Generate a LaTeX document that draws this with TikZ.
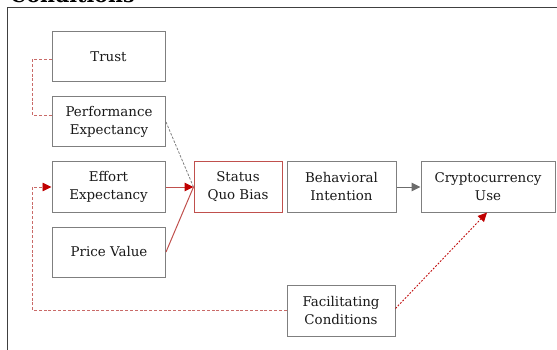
\documentclass[tikz,border=0pt]{standalone}
\usepackage{fontspec}
\setmainfont{DejaVu Serif}
\usetikzlibrary{arrows.meta}
\definecolor{boxgray}{HTML}{7F7F7F}
\definecolor{darkred}{HTML}{C00000}
\definecolor{softred}{HTML}{C0504D}
\definecolor{framegray}{HTML}{404040}
\begin{document}
\begin{tikzpicture}[x=1pt,y=-1pt,
  box/.style={draw=boxgray,line width=1pt,minimum width=113pt,minimum height=50pt,
    align=center,inner sep=0pt,text=black!90,font=\fontsize{13.4}{18}\selectfont},
  redbox/.style={box,draw=softred},
  tip/.style={-{Triangle[length=9pt,width=8.5pt]}},
  redtip/.style={-{Triangle[length=9pt,width=8.5pt,color=darkred]}},
  redarrow/.style={draw=softred,line width=1pt,redtip},
  grayarrow/.style={draw=boxgray!85!black,line width=1pt,tip},
  reddash/.style={draw=softred!85!white,line width=0.9pt,dash pattern=on 3pt off 1.8pt},
  reddot/.style={draw=darkred!85!softred,line width=0.9pt,dash pattern=on 1.8pt off 1.6pt},
  graydash/.style={draw=boxgray,line width=0.8pt,dash pattern=on 2.5pt off 1.5pt}]
\clip (0,0) rectangle (557,350);
\useasboundingbox (0,0) rectangle (557,350);
\node[anchor=base west,inner sep=0pt,font=\fontsize{20.5}{24}\selectfont\bfseries] (title) at (10,3) {Conditions};
\draw[framegray,line width=0.9pt] (7,352) -- (7,7) -- (560,7);
\node[box] (trust) at (108.5,57) {Trust};
\node[box] (pe) at (109,122) {Performance\\Expectancy};
\node[box] (ee) at (108.5,187) {Effort\\Expectancy};
\node[box] (pv) at (109,252) {Price Value};
\node[redbox,minimum width=88pt] (sqb) at (238,187) {Status\\Quo Bias};
\node[box,minimum width=109pt] (bi) at (341.5,187) {Behavioral\\Intention};
\node[box,minimum width=134pt] (cu) at (488,187) {Cryptocurrency\\Use};
\node[box,minimum width=108pt,minimum height=51pt] (fc) at (341,310.5) {Facilitating\\Conditions};
\coordinate (sqbin) at (sqb.west);
\draw[reddash] ([yshift=-2pt]trust.west) -- ++(-19,0) |- ([yshift=7pt]pe.west);
\draw[graydash] (pe.east) -- (sqbin);
\draw[softred,line width=1pt] (pv.east) -- (sqbin);
\draw[redarrow] (ee.east) -- (sqbin);
\draw[grayarrow] (bi.east) -- (cu.west);
\draw[reddash,redtip] (fc.west) -- ++(-254,0) |- (ee.west);
\draw[reddot,redtip] ([yshift=2pt]fc.east) -- ([xshift=-1pt]cu.south);
\end{tikzpicture}
\end{document}
